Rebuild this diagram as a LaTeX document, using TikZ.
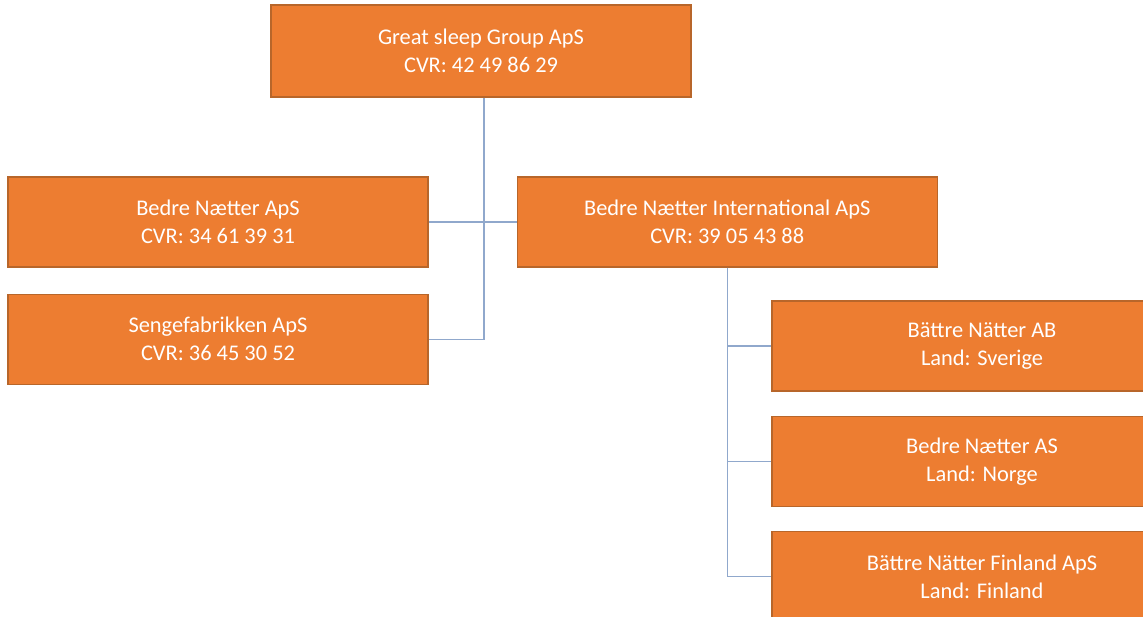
\documentclass[tikz,border=0pt]{standalone}
\usepackage{fontspec}
\setmainfont{Carlito}
\usetikzlibrary{positioning}
\definecolor{boxorange}{HTML}{ED7D31}
\definecolor{boxedge}{HTML}{B8662A}
\definecolor{linkblue}{HTML}{90A8CC}
\tikzset{
	company/.style={rectangle, draw=boxedge, line width=0.6pt, fill=boxorange,
		text=white, align=center, minimum width=210pt, minimum height=45pt,
		inner sep=2pt, font=\fontsize{11.2}{14}\selectfont},
	link/.style={draw=linkblue, line width=0.6pt}
}
\begin{document}
\begin{tikzpicture}[node distance=12pt and 44pt]
				\useasboundingbox (0,0) rectangle (571.5pt,-308pt);
				\node[company, minimum height=46pt] (group) at (240.5pt,-25.5pt) {Great sleep Group ApS\\CVR: 42 49 86 29};
				\node[company] (bn) at (109pt,-111pt) {Bedre Nætter ApS\\CVR: 34 61 39 31};
				\node[company, below=13pt of bn] (sf) {Sengefabrikken ApS\\CVR: 36 45 30 52};
				\node[company, right=44pt of bn] (intl) {Bedre Nætter International ApS\\CVR: 39 05 43 88};
				\node[company] (se) at (491pt,-173pt) {Bättre Nätter AB\\Land: Sverige};
				\node[company, below=of se] (no) {Bedre Nætter AS\\Land: Norge};
				\node[company, below=of no] (fi) {Bättre Nätter Finland ApS\\Land: Finland};
				
				\draw[link] (group.south) ++(1.5pt,0) coordinate (trunk) -- (trunk |- sf.east) -- (sf.east);
				\draw[link] (bn.east) -- (intl.west);
				\draw[link] (intl.south) |- (se.west);
				\draw[link] (intl.south) |- (no.west);
				\draw[link] (intl.south) |- (fi.west);
			\end{tikzpicture}
\end{document}
